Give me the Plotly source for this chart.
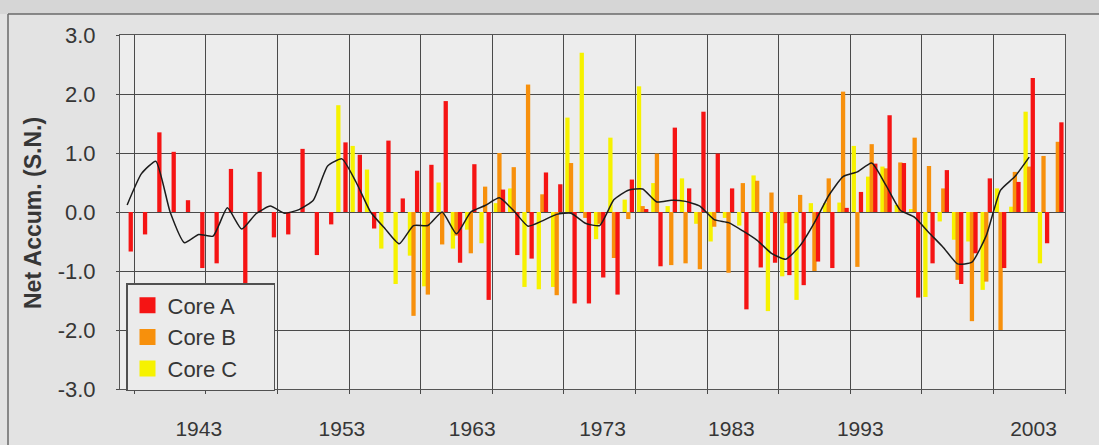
import plotly.graph_objects as go

# ---------------- data ----------------
YEARS = list(range(1938, 2004))

CORE_A = [-0.67, -0.38, 1.35, 1.02, 0.20, -0.95, -0.87, 0.73, -1.30, 0.68,
          -0.43, -0.38, 1.07, -0.73, -0.21, 1.18, 0.97, -0.28, 1.21, 0.23,
          0.70, 0.80, 1.88, -0.86, 0.81, -1.49, 0.38, -0.73, -0.79, 0.67,
          0.47, -1.55, -1.55, -1.11, -1.40, 0.55, 0.05, -0.92, 1.43, 0.40,
          1.70, 0.99, 0.40, -1.65, -0.94, -0.86, -1.07, -1.24, -0.84, -0.95,
          0.07, 0.34, 0.82, 1.64, 0.83, -1.45, -0.87, 0.71, -1.22, -0.70,
          0.57, -0.95, 0.51, 2.27, -0.53, 1.52]

CORE_B = [None] * 20 + [
          -1.76, -1.40, -0.55, -0.40, -0.70, 0.43, 1.00, 0.76, 2.16, 0.30,
          -1.41, 0.83, -0.10, -0.20, -0.78, -0.12, 0.10, 0.99, -0.90, -0.87,
          -0.97, -0.25, -1.03, 0.49, 0.53, 0.33, -0.19, 0.29, -1.00, 0.57,
          2.04, -0.93, 1.15, 0.74, 0.84, 1.26, 0.78, 0.40, -1.15, -1.85,
          -1.18, -2.00, 0.68, 0.77, 0.95, 1.19]

CORE_C = [None] * 15 + [
          1.81, 1.12, 0.72, -0.62, -1.22,
          -0.74, -1.26, 0.50, -0.62, -0.30, -0.53, 0.15, 0.40, -1.27, -1.31,
          -1.27, 1.60, 2.70, -0.46, 1.26, 0.21, 2.13, 0.49, 0.10, 0.57,
          -0.20, -0.50, -0.10, -0.23, 0.62, -1.68, -1.09, -1.49, 0.15, 0.15,
          0.16, 1.12, 0.60, 0.77, 0.12, 0.05, -1.44, -0.16, -0.47, -0.50,
          -1.32, 0.40, 0.09, 1.70, -0.87, None]

SMOOTH_YEARS = list(range(1938, 2002))
SMOOTH = [0.12, 0.65, 0.86, 0.00, -0.52, -0.38, -0.41, 0.07, -0.29, -0.03,
          0.10, -0.02, 0.04, 0.20, 0.78, 0.90, 0.50, 0.00, -0.28, -0.54,
          -0.23, -0.23, 0.00, -0.37, 0.00, 0.11, 0.24, 0.02, -0.24, -0.15,
          -0.04, -0.02, -0.19, -0.23, 0.21, 0.37, 0.39, 0.17, 0.20, 0.18,
          0.10, -0.13, -0.18, -0.32, -0.48, -0.70, -0.80, -0.57, -0.18, 0.28,
          0.60, 0.68, 0.83, 0.45, 0.03, -0.09, -0.35, -0.60, -0.88, -0.85,
          -0.40, 0.37, 0.60, 0.93]

SERIES_NAMES = ["Core A", "Core B", "Core C"]
X_TICK_POS = [1943, 1953, 1962.1, 1971.2, 1980.2, 1989.2, 2001.3]
X_TICK_TEXT = ["1943", "1953", "1963", "1973", "1983", "1993", "2003"]
Y_TICKS = [-3, -2, -1, 0, 1, 2, 3]
Y_TICK_TEXT = ["-3.0", "-2.0", "-1.0", "0.0", "1.0", "2.0", "3.0"]

# ---------------- styling ----------------
RED = "#f51414"
ORANGE = "#f7900c"
YELLOW = "#f6f200"
GRID = "#4a4a4a"
TEXT = "#363636"
FONT = "Liberation Sans, Arial, sans-serif"
PAD = "\u00a0" * 5

fig = go.Figure()

BAR_W = 0.3
for vals, col, off in [(CORE_C, YELLOW, -0.40), (CORE_B, ORANGE, -0.15), (CORE_A, RED, 0.10)]:
    fig.add_trace(go.Bar(x=YEARS, y=vals, width=BAR_W, offset=off,
                         marker=dict(color=col, line=dict(width=0)),
                         showlegend=False, hoverinfo="x+y"))

fig.add_trace(go.Scatter(x=SMOOTH_YEARS, y=SMOOTH, mode="lines",
                         line=dict(color="#1c1c1c", width=1.5, shape="spline", smoothing=0.5),
                         showlegend=False))

for i, (name, col) in enumerate(zip(SERIES_NAMES, [RED, ORANGE, YELLOW])):
    fig.add_trace(go.Scatter(x=[None], y=[None], mode="markers", name=name + PAD,
                             legendgroup=name, legendrank=i + 1,
                             marker=dict(symbol="square", size=16, color=col)))

# plot area: x 120..1065 px, y 35..389 px
PW, PH = 945.0, 354.0
def px_x(p):
    return (p - 120) / PW
def px_y(p):
    return (389 - p) / PH

fig.update_layout(
    width=1099, height=445, autosize=False,
    margin=dict(l=120, r=34, t=35, b=56, pad=0),
    paper_bgcolor="#e3e3e3",
    plot_bgcolor="#ededed",
    barmode="overlay",
    font=dict(family=FONT, color=TEXT, size=21),
    xaxis=dict(
        range=[1937.5, 2003.5], showgrid=False, zeroline=False, automargin=False,
        tickmode="array", tickvals=X_TICK_POS, ticktext=X_TICK_TEXT,
        ticks="outside", ticklen=21, tickcolor="rgba(0,0,0,0)",
        tickfont=dict(size=21, color=TEXT, family=FONT),
        showline=True, mirror=True, linecolor="#555", linewidth=1,
        minor=dict(tick0=1938.5, dtick=5, showgrid=True, gridcolor=GRID, gridwidth=1,
                   ticks="outside", ticklen=4, tickcolor=GRID),
    ),
    yaxis=dict(
        range=[-3, 3], tickmode="array", tickvals=Y_TICKS, ticktext=Y_TICK_TEXT,
        showgrid=True, gridcolor=GRID, gridwidth=1, automargin=False,
        zeroline=True, zerolinecolor=GRID, zerolinewidth=1,
        ticks="outside", ticklen=3, tickcolor=GRID, ticklabelstandoff=16,
        tickfont=dict(size=22, color=TEXT, family=FONT),
        showline=True, mirror=True, linecolor="#555", linewidth=1,
    ),
    legend=dict(
        x=px_x(126), y=px_y(283), xanchor="left", yanchor="top",
        bgcolor="#ebebeb", bordercolor="#505050", borderwidth=1.5,
        font=dict(size=22, color=TEXT, family=FONT),
        tracegroupgap=0, itemwidth=30,
    ),
    annotations=[dict(
        text="<b>Net Accum. (S.N.)</b>", textangle=-90, showarrow=False,
        xref="paper", yref="paper", x=px_x(33), y=px_y(213),
        xanchor="center", yanchor="middle",
        font=dict(size=23, color=TEXT, family=FONT),
    )],
    shapes=[
        dict(type="rect", xref="paper", yref="paper", x0=px_x(-5), x1=px_x(1110),
             y0=px_y(14), y1=px_y(-5), fillcolor="#d6d6d6", line=dict(width=0), layer="below"),
        dict(type="line", xref="paper", yref="paper", x0=px_x(8), x1=px_x(1110),
             y0=px_y(14), y1=px_y(14), line=dict(color="#6a6a6a", width=1.5)),
        dict(type="line", xref="paper", yref="paper", x0=px_x(8), x1=px_x(8),
             y0=px_y(14), y1=px_y(460), line=dict(color="#6a6a6a", width=1.5)),
    ],
)

fig.write_html("out.html", config={"displayModeBar": False},
               post_script="document.body.style.margin='0px';")
